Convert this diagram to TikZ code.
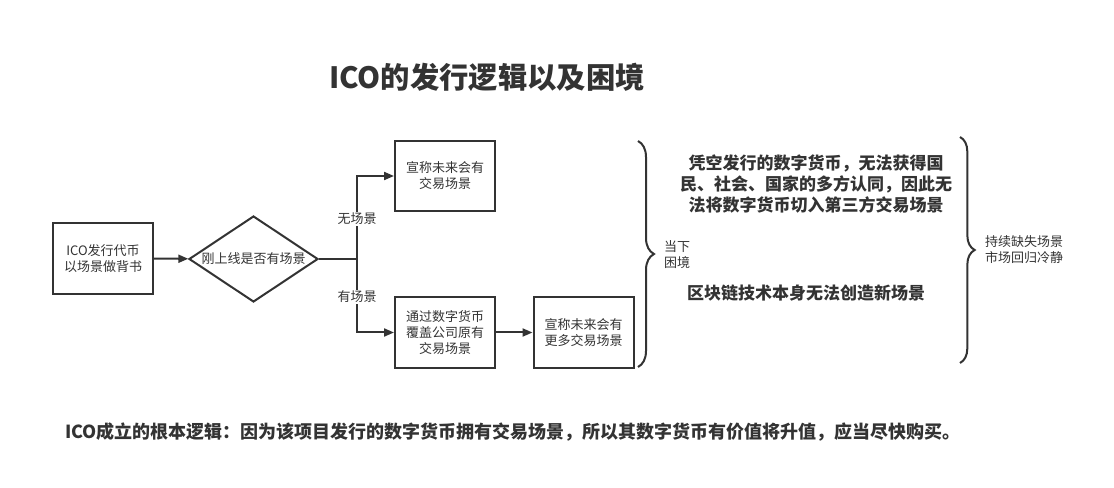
\documentclass[tikz,border=0pt]{standalone}
\usepackage{fontspec}
\setmainfont{Noto Sans CJK SC}
\usetikzlibrary{arrows.meta,shapes.geometric,decorations.pathreplacing}
\definecolor{ink}{HTML}{333333}

\begin{document}
\begin{tikzpicture}[x=0.75pt,y=-0.75pt,
  every node/.style={text=ink,align=center,font=\fontsize{9.75}{12}\selectfont},
  box/.style={draw=ink,line width=1.5pt,minimum width=75pt,minimum height=53pt,inner sep=0pt},
  dia/.style={diamond,draw=ink,line width=1.5pt,minimum width=96.75pt,minimum height=64.5pt,inner sep=0pt},
  line/.style={draw=ink,line width=1.5pt},
  link/.style={line,-{Triangle[length=7.5pt,width=6pt]}},
  tag/.style={fill=white,inner sep=1pt},
  bold/.style={font=\fontsize{12.75}{15.4}\selectfont\bfseries},
  curly/.style={line,decorate,decoration={brace,amplitude=#1}}]
  \useasboundingbox (0,0) rectangle (1114,488);
  \node[font=\fontsize{22}{26}\selectfont\bfseries] (title) at (487,77) {ICO的发行逻辑以及困境};
  \node[box] (coin) at (103,258.5) {ICO发行代币\\以场景做背书};
  \node[dia,label={center:刚上线是否有场景}] (ask) at (253.5,259) {};
  \coordinate (fork) at (357,259);
  \node[box] (claim) at (445,176) {宣称未来会有\\交易场景};
  \node[box] (cover) at (445,332.5) {通过数字货币\\覆盖公司原有\\交易场景};
  \node[box] (more) at (583.5,332.5) {宣称未来会有\\更多交易场景};
  \draw[link] (coin) -- (ask);
  \draw[line] (ask.east) -- (fork);
  \draw[link] (fork) |- (claim.west);
  \draw[link] (fork) |- (cover.west);
  \draw[link] (cover) -- (more);
  \node[tag] (none) at (357,219) {无场景};
  \node[tag] (some) at (357,297) {有场景};
  \coordinate (b1top) at (638,141);
  \coordinate (b1bot) at (638,367);
  \draw[curly=12pt] (b1top) -- (b1bot);
  \node (now) at (677,254.5) {当下\\困境};
  \node[bold] (why) at (816,184) {凭空发行的数字货币，无法获得国\\民、社会、国家的多方认同，因此无\\法将数字货币切入第三方交易场景};
  \node[bold] (tech) at (806,293) {区块链技术本身无法创造新场景};
  \coordinate (b2top) at (960,137);
  \coordinate (b2bot) at (960,363);
  \draw[curly=11pt] (b2top) -- (b2bot);
  \node (cold) at (1024,250) {持续缺失场景\\市场回归冷静};
  \node[font=\fontsize{13.5}{16}\selectfont\bfseries] (rule) at (513,432) {ICO成立的根本逻辑：因为该项目发行的数字货币拥有交易场景，所以其数字货币有价值将升值，应当尽快购买。};
\end{tikzpicture}
\end{document}
